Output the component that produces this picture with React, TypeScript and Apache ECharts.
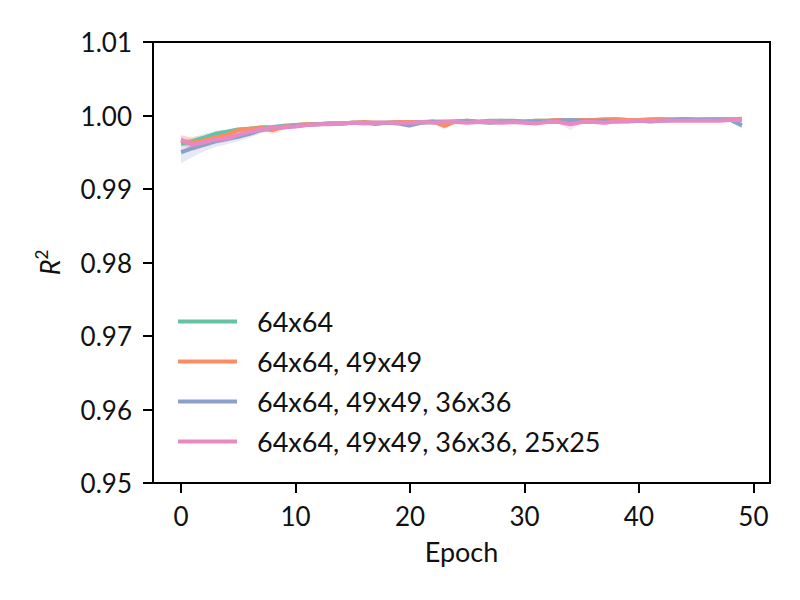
import { useEffect, useRef } from 'react';
import * as echarts from 'echarts';

const SERIES_NAMES = ['64x64', '64x64, 49x49', '64x64, 49x49, 36x36', '64x64, 49x49, 36x36, 25x25'];
const COLORS = ['#66c2a5', '#fc8d62', '#8da0cb', '#e78ac3'];
const X_TICKS = [0, 10, 20, 30, 40, 50];
const Y_TICKS = [0.95, 0.96, 0.97, 0.98, 0.99, 1.0, 1.01];

// epochs 0..49
const EPOCHS = [
  0, 1, 2, 3, 4, 5, 6, 7, 8, 9, 10, 11, 12, 13, 14, 15, 16, 17, 18, 19, 20, 21, 22, 23, 24,
  25, 26, 27, 28, 29, 30, 31, 32, 33, 34, 35, 36, 37, 38, 39, 40, 41, 42, 43, 44, 45, 46, 47, 48, 49,
];

// mean R^2 per epoch
const MEAN_64 = [
  0.99615, 0.9965, 0.997, 0.99751, 0.9978, 0.9981, 0.9982, 0.9984, 0.99845, 0.9986,
  0.9987, 0.9988, 0.99885, 0.9989, 0.9989, 0.999, 0.999, 0.99885, 0.999, 0.9991,
  0.9991, 0.9991, 0.9992, 0.9992, 0.9992, 0.9993, 0.9992, 0.9993, 0.9993, 0.9993,
  0.9992, 0.9993, 0.9993, 0.9994, 0.9994, 0.9994, 0.9994, 0.9994, 0.9995, 0.9994,
  0.9994, 0.9995, 0.9995, 0.9995, 0.9995, 0.9995, 0.9995, 0.9995, 0.9995, 0.9995,
];
const MEAN_64_49 = [
  0.9966, 0.9963, 0.9966, 0.997, 0.99737, 0.998, 0.9982, 0.9983, 0.998, 0.9985,
  0.9987, 0.9988, 0.9988, 0.9989, 0.9989, 0.999, 0.9991, 0.999, 0.999, 0.9991,
  0.9991, 0.999, 0.9992, 0.9986, 0.9992, 0.9993, 0.9991, 0.9992, 0.9993, 0.9991,
  0.9992, 0.9993, 0.9993, 0.9994, 0.9993, 0.9994, 0.9994, 0.9995, 0.9995, 0.9994,
  0.9994, 0.9994, 0.9995, 0.9994, 0.9995, 0.9994, 0.9995, 0.9995, 0.9995, 0.99955,
];
const MEAN_64_49_36 = [
  0.995, 0.99555, 0.996, 0.9965, 0.9968, 0.9971, 0.9975, 0.998, 0.9983, 0.9984,
  0.9986, 0.9987, 0.9988, 0.9989, 0.9989, 0.999, 0.999, 0.999, 0.999, 0.9989,
  0.99865, 0.999, 0.9991, 0.9991, 0.9992, 0.9992, 0.9991, 0.999, 0.9991, 0.9992,
  0.9991, 0.9992, 0.9992, 0.9993, 0.9994, 0.9993, 0.9993, 0.9993, 0.9992, 0.9992,
  0.9993, 0.9992, 0.9993, 0.9994, 0.9995, 0.9994, 0.9994, 0.9994, 0.9994, 0.99865,
];
const MEAN_ALL = [
  0.9967, 0.996, 0.99637, 0.99673, 0.9969, 0.99737, 0.9978, 0.9981, 0.99835, 0.9984,
  0.9985, 0.9987, 0.9988, 0.9988, 0.9989, 0.999, 0.9989, 0.999, 0.999, 0.999,
  0.999, 0.9991, 0.999, 0.9991, 0.9991, 0.999, 0.9991, 0.9991, 0.999, 0.9991,
  0.999, 0.9989, 0.9991, 0.9991, 0.9988, 0.9991, 0.9991, 0.999, 0.9992, 0.9993,
  0.9993, 0.9993, 0.9993, 0.9993, 0.9993, 0.9993, 0.9993, 0.9993, 0.9994, 0.9994,
];

// standard deviation (half band width) per epoch
const STD_64 = [
  0.0004, 0.0005, 0.0005, 0.0004, 0.0003, 0.0003, 0.0003, 0.0002, 0.0002, 0.0002,
  0.0002, 0.0002, 0.0002, 0.0001, 0.0001, 0.0001, 0.0001, 0.0002, 0.0001, 0.0001,
  0.0001, 0.0001, 0.0001, 0.0001, 0.0001, 0.0001, 0.0001, 0.0001, 0.0001, 0.0001,
  0.0001, 0.0001, 0.0001, 0.0001, 0.0002, 0.0001, 0.0001, 0.0001, 0.0001, 0.0001,
  0.0001, 0.0001, 0.0001, 0.0001, 0.0001, 0.0001, 0.0001, 0.0001, 0.0001, 0.0001,
];
const STD_64_49 = [
  0.0006, 0.0008, 0.0007, 0.0007, 0.0006, 0.0004, 0.0003, 0.0003, 0.0006, 0.0004,
  0.0002, 0.0002, 0.0002, 0.0002, 0.0002, 0.0002, 0.0002, 0.0002, 0.0001, 0.0002,
  0.0002, 0.0002, 0.0002, 0.0005, 0.0002, 0.0002, 0.0003, 0.0002, 0.0002, 0.0003,
  0.0002, 0.0002, 0.0002, 0.0001, 0.0002, 0.0001, 0.0001, 0.0001, 0.0001, 0.0002,
  0.0001, 0.0002, 0.0001, 0.0002, 0.0001, 0.0002, 0.0001, 0.0001, 0.0001, 0.0001,
];
const STD_64_49_36 = [
  0.0015, 0.0012, 0.0009, 0.0008, 0.0007, 0.0006, 0.0005, 0.0004, 0.0004, 0.0003,
  0.0003, 0.0002, 0.0002, 0.0002, 0.0002, 0.0002, 0.0002, 0.0002, 0.0002, 0.0003,
  0.0004, 0.0002, 0.0002, 0.0002, 0.0002, 0.0002, 0.0003, 0.0003, 0.0002, 0.0002,
  0.0002, 0.0002, 0.0002, 0.0002, 0.0002, 0.0002, 0.0002, 0.0002, 0.0003, 0.0003,
  0.0003, 0.0003, 0.0003, 0.0002, 0.0002, 0.0002, 0.0002, 0.0002, 0.0002, 0.0005,
];
const STD_ALL = [
  0.0007, 0.0008, 0.0007, 0.0006, 0.0005, 0.0005, 0.0004, 0.0003, 0.0003, 0.0003,
  0.0003, 0.0002, 0.0002, 0.0002, 0.0002, 0.0002, 0.0002, 0.0002, 0.0002, 0.0002,
  0.0002, 0.0002, 0.0002, 0.0002, 0.0002, 0.0002, 0.0002, 0.0002, 0.0002, 0.0003,
  0.0002, 0.0003, 0.0002, 0.0002, 0.0008, 0.0002, 0.0002, 0.0003, 0.0002, 0.0002,
  0.0002, 0.0002, 0.0002, 0.0002, 0.0002, 0.0002, 0.0002, 0.0002, 0.0002, 0.0002,
];

const MEANS = [MEAN_64, MEAN_64_49, MEAN_64_49_36, MEAN_ALL];
const STDS = [STD_64, STD_64_49, STD_64_49_36, STD_ALL];

const FONT = 'Lato';

function hexToRgba(hex: string, a: number) {
  const n = parseInt(hex.slice(1), 16);
  return `rgba(${(n >> 16) & 255},${(n >> 8) & 255},${n & 255},${a})`;
}

export default function App() {
  const chartRef = useRef<HTMLDivElement>(null);

  useEffect(() => {
    if (!chartRef.current) return;
    const chart = echarts.init(chartRef.current, null, { renderer: 'svg' });

    const bandSeries: any[] = [];
    const lineSeries: any[] = [];
    MEANS.forEach((mean, s) => {
      const std = STDS[s];
      // shaded mean ± std band, one polygon through the axis scales
      bandSeries.push({
        type: 'custom',
        name: 'band' + s,
        silent: true,
        z: 1,
        data: [[0, mean[0]]],
        renderItem: (_params: any, api: any) => {
          const upper = EPOCHS.map((e, i) => api.coord([e, mean[i] + std[i]]));
          const lower = EPOCHS.map((e, i) => api.coord([e, mean[i] - std[i]])).reverse();
          return {
            type: 'polygon',
            shape: { points: [...upper, ...lower] },
            style: { fill: hexToRgba(COLORS[s], 0.22), stroke: 'none' },
          };
        },
      });
      lineSeries.push({
        type: 'line',
        name: SERIES_NAMES[s],
        data: EPOCHS.map((e, i) => [e, mean[i]]),
        symbol: 'none',
        lineStyle: { color: COLORS[s], width: 4 },
        itemStyle: { color: COLORS[s] },
        z: 2,
      });
    });

    chart.setOption({
      animation: false,
      textStyle: { fontFamily: FONT },
      grid: {
        left: 153,
        right: 30,
        top: 42,
        bottom: 117,
        show: true,
        borderColor: '#000',
        borderWidth: 2,
        backgroundColor: 'transparent',
      },
      legend: {
        data: SERIES_NAMES,
        orient: 'vertical',
        left: 173,
        top: 303,
        icon: 'rect',
        itemWidth: 59,
        itemHeight: 4,
        itemGap: 13,
        textStyle: { fontFamily: FONT, fontSize: 27, color: '#111', padding: [0, 0, 0, 15] },
      },
      xAxis: {
        type: 'value',
        min: -2.45,
        max: 51.45,
        name: 'Epoch',
        nameLocation: 'middle',
        nameGap: 55,
        nameTextStyle: { fontFamily: FONT, fontSize: 27, color: '#111' },
        axisLine: { show: true, onZero: false, lineStyle: { color: '#000', width: 2 } },
        axisTick: { show: true, length: 10, lineStyle: { color: '#000', width: 2 }, customValues: X_TICKS },
        axisLabel: { fontFamily: FONT, fontSize: 26, color: '#111', margin: 20, customValues: X_TICKS },
        splitLine: { show: false },
      },
      yAxis: {
        type: 'value',
        min: 0.95,
        max: 1.01,
        name: '{i|R}{s|2}',
        nameLocation: 'middle',
        nameRotate: 90,
        nameGap: 90,
        nameTextStyle: {
          rich: {
            i: { fontFamily: FONT, fontSize: 27, fontStyle: 'italic', color: '#111', lineHeight: 30, verticalAlign: 'bottom' },
            s: { fontFamily: FONT, fontSize: 17, color: '#111', lineHeight: 30, verticalAlign: 'top' },
          },
        },
        axisLine: { show: true, onZero: false, lineStyle: { color: '#000', width: 2 } },
        axisTick: { show: true, length: 10, lineStyle: { color: '#000', width: 2 }, customValues: Y_TICKS },
        axisLabel: {
          fontFamily: FONT,
          fontSize: 26,
          color: '#111',
          margin: 21,
          customValues: Y_TICKS,
          formatter: (v: number) => v.toFixed(2),
        },
        splitLine: { show: false },
      },
      series: [...bandSeries, ...lineSeries],
    });

    return () => chart.dispose();
  }, []);

  return (
    <div
      ref={chartRef}
      style={{ position: 'fixed', left: 0, top: 0, width: 800, height: 600, background: '#fff' }}
    />
  );
}
